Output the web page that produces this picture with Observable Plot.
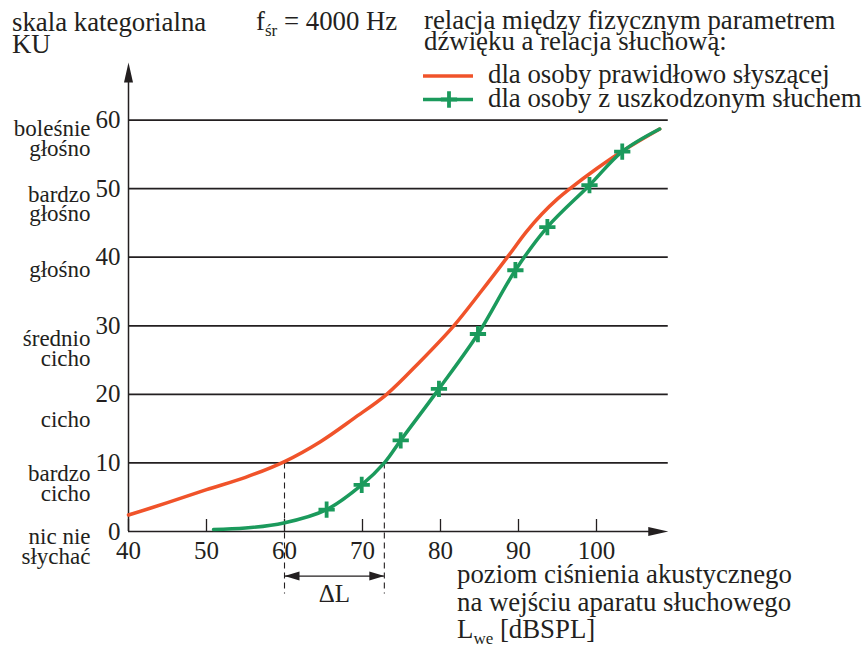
<!DOCTYPE html>
<html><head><meta charset="utf-8">
<script src="https://cdn.jsdelivr.net/npm/d3@7"></script>
<script src="https://cdn.jsdelivr.net/npm/@observablehq/plot@0.6"></script>
<style>
body{margin:0;background:#fff;}
#wrap{width:864px;height:649px;}
#wrap svg, #wrap svg text, #wrap svg tspan{font-family:"Liberation Serif","Times New Roman","DejaVu Serif",serif !important;}
</style></head><body><div id="wrap"></div>
<script>
// ---- data ----
const xTicks = [40, 50, 60, 70, 80, 90, 100];
const yTicks = [0, 10, 20, 30, 40, 50, 60];
const gridLevels = [10, 20, 30, 40, 50, 60];
const categories = ["nic nie\nsłychać", "bardzo\ncicho", "cicho", "średnio\ncicho", "głośno", "bardzo\ngłośno", "boleśnie\ngłośno"];
const categoryLevel = [-2.3, 6.8, 16.2, 26.5, 38.0, 47.6, 57.2];

const normalX = [40, 45, 50, 55, 60, 64.6, 68.9, 73.1, 77.4, 81.7, 85.2, 88.7, 91, 93, 95, 96.6, 100, 103.5, 108.1];
const normalY = [2.4, 4.2, 6.1, 7.9, 10.2, 13.1, 16.5, 20, 24.8, 30, 35.0, 40.2, 43.7, 46.3, 48.5, 50.0, 52.9, 55.6, 58.7];

const impairedX = [50.9, 55, 59.9, 65.4, 69.9, 72.8, 74.9, 79.8, 84.8, 89.6, 93.7, 99.1, 103.3, 108.1];
const impairedY = [0.3, 0.5, 1.25, 3.2, 6.8, 10, 13.3, 20.8, 28.8, 38.1, 44.4, 50.5, 55.4, 58.7];

const markerX = [65.4, 69.9, 74.9, 79.8, 84.8, 89.6, 93.7, 99.1, 103.3];
const markerY = [3.2, 6.8, 13.3, 20.8, 28.8, 38.1, 44.4, 50.5, 55.4];

const deltaL = [60, 72.8];
const axisEnd = {x: 109.2, y: 68.4};
const deltaRow = -6.5, dashEnd = -9.1;

const ink = "#231f20", red = "#f0532a", green = "#1b9a5c";

const normal = normalX.map((x, i) => ({x, y: normalY[i]}));
const impaired = impairedX.map((x, i) => ({x, y: impairedY[i]}));
const markers = markerX.map((x, i) => ({x, y: markerY[i]}));
const cats = categories.map((t, i) => ({t, y: categoryLevel[i]}));

function head(dir, len, hw) {
  return {draw(ctx) {
    if (dir === "up") { ctx.moveTo(0, 0); ctx.lineTo(-hw, len); ctx.lineTo(hw, len); }
    else if (dir === "right") { ctx.moveTo(0, 0); ctx.lineTo(-len, -hw); ctx.lineTo(-len, hw); }
    else { ctx.moveTo(0, 0); ctx.lineTo(len, -hw); ctx.lineTo(len, hw); }
    ctx.closePath();
  }};
}

const font = '"Liberation Serif", "Times New Roman", "DejaVu Serif", serif';

const plot = Plot.plot({
  width: 864, height: 649,
  marginLeft: 128, marginRight: 190, marginTop: 51, marginBottom: 118,
  x: {domain: [40, 110], label: null},
  y: {domain: [0, 70], label: null},
  style: {fontFamily: font, color: ink, background: "white", overflow: "visible"},
  marks: [
    Plot.ruleY(gridLevels, {x1: 40, x2: axisEnd.x, stroke: ink, strokeWidth: 1.8, strokeOpacity: 1}),
    Plot.ruleY([0], {x1: 40, x2: axisEnd.x - 1, stroke: ink, strokeWidth: 1.5, strokeOpacity: 1}),
    Plot.ruleX([40], {y1: 0, y2: axisEnd.y - 1, stroke: ink, strokeWidth: 1.5, strokeOpacity: 1}),
    Plot.dot([axisEnd], {x: "x", y: () => 0, symbol: head("right", 20, 4.5), fill: ink, stroke: "none"}),
    Plot.dot([axisEnd], {x: () => 40, y: "y", symbol: head("up", 20, 4.5), fill: ink, stroke: "none"}),
    Plot.axisY({ticks: yTicks, label: null, tickSize: 0, tickPadding: 8, fontSize: 25, tickFormat: d => String(d), fill: ink}),
    Plot.axisX({ticks: xTicks, label: null, tickSize: -12, tickPadding: 22, fontSize: 25, tickFormat: d => String(d), fill: ink, stroke: ink, strokeWidth: 1.3}),
    Plot.text(cats, {y: "y", text: "t", frameAnchor: "left", textAnchor: "end", dx: -38, fontSize: 23, lineHeight: 0.86, fill: ink}),
    Plot.ruleX(deltaL, {y1: 10, y2: dashEnd, stroke: ink, strokeWidth: 1.1, strokeDasharray: "6,4"}),
    Plot.ruleY([deltaRow], {x1: deltaL[0], x2: deltaL[1], stroke: ink, strokeWidth: 1.3}),
    Plot.dot([deltaRow], {x: () => deltaL[0], y: d => d, symbol: head("left", 15, 4.5), fill: ink, stroke: "none"}),
    Plot.dot([deltaRow], {x: () => deltaL[1], y: d => d, symbol: head("right", 15, 4.5), fill: ink, stroke: "none"}),
    Plot.text(["ΔL"], {x: () => (deltaL[0] + deltaL[1]) / 2, y: () => dashEnd, text: d => d, fontSize: 25, fill: ink}),
    Plot.line(normal, {x: "x", y: "y", stroke: red, strokeWidth: 3.5, curve: "catmull-rom"}),
    Plot.line(impaired, {x: "x", y: "y", stroke: green, strokeWidth: 3.5, curve: "catmull-rom"}),
    Plot.dot(markers, {x: "x", y: "y", symbol: "plus", r: 5.3, stroke: green, strokeWidth: 3.8})
  ]
});
document.getElementById("wrap").appendChild(plot);

// ---- annotations (titles, legend) ----
const svg = d3.select(plot);
const g = svg.append("g").attr("font-family", font).attr("fill", ink).attr("font-size", 26.8).attr("text-anchor", "start");
function txt(x, y, parts) {
  const t = g.append("text").attr("x", x).attr("y", y);
  for (const p of parts) {
    if (typeof p === "string") t.append("tspan").text(p);
    else t.append("tspan").attr("font-size", 17).attr("baseline-shift", -6).text(p.sub);
  }
  return t;
}
txt(12, 31, ["skala kategorialna"]);
txt(12, 53, ["KU"]);
txt(256, 30, ["f", {sub: "śr"}, " = 4000 Hz"]);
txt(424, 29, ["relacja między fizycznym parametrem"]);
txt(424, 50, ["dźwięku a relacja słuchową:"]);
txt(488, 83, ["dla osoby prawidłowo słyszącej"]);
txt(488, 107, ["dla osoby z uszkodzonym słuchem"]);
txt(457, 583, ["poziom ciśnienia akustycznego"]);
txt(457, 611, ["na wejściu aparatu słuchowego"]);
txt(457, 638, ["L", {sub: "we"}, " [dBSPL]"]);
// legend swatches
g.append("line").attr("x1", 423).attr("x2", 473).attr("y1", 76).attr("y2", 76).attr("stroke", red).attr("stroke-width", 3.5);
g.append("line").attr("x1", 423).attr("x2", 473).attr("y1", 99.5).attr("y2", 99.5).attr("stroke", green).attr("stroke-width", 3.5);
g.append("path").attr("d", d3.symbol(d3.symbolPlus, Math.PI * 5.3 * 5.3)()).attr("transform", "translate(449,99.5)").attr("stroke", green).attr("stroke-width", 3.8).attr("fill", "none");
</script>
</body></html>
